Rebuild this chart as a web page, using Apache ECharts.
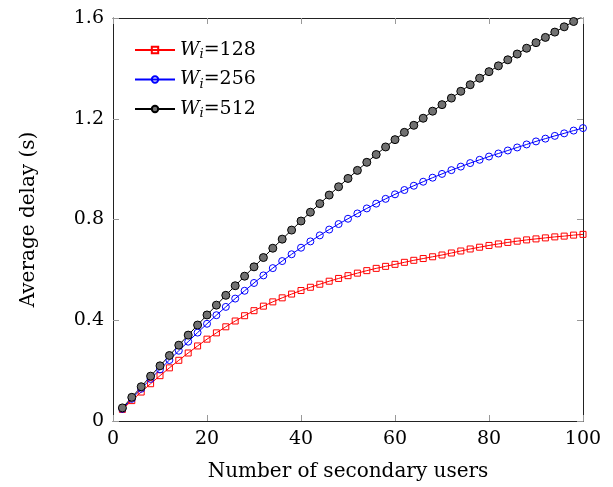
<!DOCTYPE html>
<html>
<head>
<meta charset="utf-8">
<script src="https://cdn.jsdelivr.net/npm/echarts@6/dist/echarts.min.js"></script>
<style>html,body{margin:0;padding:0;background:#fff;}#c{width:613px;height:487px;}</style>
</head>
<body>
<div id="c"></div>
<script>
var xs = [2,4,6,8,10,12,14,16,18,20,22,24,26,28,30,32,34,36,38,40,42,44,46,48,50,52,54,56,58,60,62,64,66,68,70,72,74,76,78,80,82,84,86,88,90,92,94,96,98,100];
var w128 = [0.046,0.081,0.115,0.148,0.180,0.211,0.241,0.270,0.298,0.325,0.350,0.374,0.397,0.418,0.438,0.456,0.473,0.489,0.504,0.518,0.531,0.543,0.555,0.566,0.577,0.587,0.597,0.606,0.614,0.622,0.630,0.638,0.645,0.652,0.659,0.667,0.675,0.683,0.690,0.697,0.703,0.709,0.714,0.719,0.723,0.727,0.731,0.734,0.738,0.741];
var w256 = [0.048,0.088,0.128,0.167,0.205,0.242,0.279,0.315,0.351,0.386,0.420,0.453,0.486,0.517,0.548,0.578,0.607,0.635,0.662,0.688,0.713,0.737,0.760,0.782,0.803,0.824,0.844,0.863,0.882,0.900,0.917,0.934,0.950,0.966,0.981,0.996,1.010,1.024,1.037,1.050,1.062,1.074,1.086,1.098,1.110,1.121,1.132,1.142,1.153,1.163];
var w512 = [0.052,0.094,0.136,0.178,0.219,0.260,0.301,0.341,0.381,0.421,0.460,0.499,0.537,0.575,0.612,0.649,0.686,0.722,0.758,0.794,0.829,0.863,0.897,0.930,0.963,0.995,1.027,1.058,1.088,1.117,1.146,1.174,1.202,1.230,1.256,1.282,1.309,1.335,1.361,1.387,1.410,1.434,1.457,1.480,1.502,1.523,1.544,1.565,1.586,1.607];
var seriesNames = ['128','256','512'];
var xTitle = 'Number of secondary users';
var yTitle = 'Average delay (s)';

function pairs(v){ return xs.map(function(x,i){ return [x, v[i]]; }); }
var FONT = 'DejaVu Serif';
var chart = echarts.init(document.getElementById('c'));
var tickStyle = {show:true, inside:true, length:6, lineStyle:{color:'#999', width:1}};
var lineStyle = {show:true, onZero:false, lineStyle:{color:'#222', width:1}};
chart.setOption({
  animation:false,
  backgroundColor:'#fff',
  grid:{left:113, right:30, top:18, bottom:66},
  legend:{
    orient:'vertical', left:129, top:34, itemWidth:40, itemHeight:8, itemGap:7,
    data:seriesNames,
    formatter:function(n){ return '{w|W}{i|i}{n|=' + n + '}'; },
    textStyle:{fontFamily:FONT, fontSize:19, color:'#000', lineHeight:22,
      rich:{
        w:{fontFamily:FONT, fontStyle:'italic', fontSize:19, color:'#000'},
        i:{fontFamily:FONT, fontStyle:'italic', fontSize:13, color:'#000', padding:[10,0,0,0]},
        n:{fontFamily:FONT, fontSize:19, color:'#000'}
      }}
  },
  xAxis:[
    {type:'value', min:0, max:100, interval:20, position:'bottom',
     name:xTitle, nameLocation:'middle', nameGap:41,
     nameTextStyle:{fontFamily:FONT, fontSize:20, color:'#000'},
     axisLine:lineStyle, axisTick:tickStyle, splitLine:{show:false},
     axisLabel:{fontFamily:FONT, fontSize:19, color:'#000', margin:9}},
    {type:'value', min:0, max:100, interval:20, position:'top',
     axisLine:lineStyle, axisTick:tickStyle, splitLine:{show:false}, axisLabel:{show:false}}
  ],
  yAxis:[
    {type:'value', min:0, max:1.6, interval:0.4, position:'left',
     name:yTitle, nameLocation:'middle', nameGap:74, nameRotate:90,
     nameTextStyle:{fontFamily:FONT, fontSize:20, color:'#000'},
     axisLine:lineStyle, axisTick:tickStyle, splitLine:{show:false},
     axisLabel:{fontFamily:FONT, fontSize:19, color:'#000', margin:9}},
    {type:'value', min:0, max:1.6, interval:0.4, position:'right',
     axisLine:lineStyle, axisTick:tickStyle, splitLine:{show:false}, axisLabel:{show:false}}
  ],
  series:[
    {name:seriesNames[0], type:'line', data:pairs(w128), symbol:'rect', symbolSize:6,
     lineStyle:{color:'#ff0000', width:1}, itemStyle:{color:'rgba(255,255,255,0)', borderColor:'#ff0000', borderWidth:1}, color:'#ff0000'},
    {name:seriesNames[1], type:'line', data:pairs(w256), symbol:'circle', symbolSize:7,
     lineStyle:{color:'#0000ff', width:1}, itemStyle:{color:'rgba(255,255,255,0)', borderColor:'#0000ff', borderWidth:1}, color:'#0000ff'},
    {name:seriesNames[2], type:'line', data:pairs(w512), symbol:'circle', symbolSize:8,
     lineStyle:{color:'#000', width:1}, itemStyle:{color:'#717171', borderColor:'#000', borderWidth:1}, color:'#717171'}
  ]
});
</script>
</body>
</html>
